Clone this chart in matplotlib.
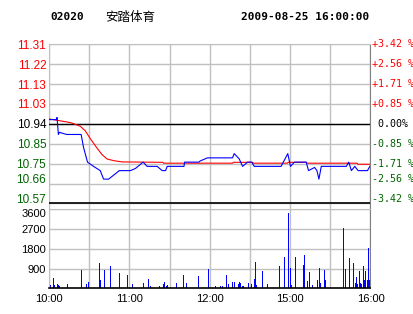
import matplotlib
matplotlib.use("Agg")
import matplotlib.pyplot as plt
import matplotlib.transforms as mtransforms

# --- data (minutes of trading since 10:00; lunch break 12:30-14:30 removed) ---
pre_close = 10.94
pct_steps = [3.42, 2.565, 1.71, 0.855, 0.0, -0.855, -1.71, -2.565, -3.42]
price_labels = ["11.31", "11.22", "11.13", "11.03", "10.94", "10.85", "10.75", "10.66", "10.57"]
pct_labels = ["+3.42 %", "+2.56 %", "+1.71 %", "+0.85 %", " 0.00%",
              "-0.85 %", "-1.71 %", "-2.56 %", "-3.42 %"]
vol_ticks = [3600, 2700, 1800, 900]
time_ticks = [0, 60, 120, 180, 240]
time_labels = ["10:00", "11:00", "12:00", "15:00", "16:00"]

price_t = [0, 5.5, 6, 7, 7.75, 13.25, 24, 25.75, 28.75, 33.25, 38.25, 40.75, 44.5,
           52.5, 60.75, 64.5, 70.25, 73.25, 80.75, 84.5, 87, 88.25, 100.75, 101.25,
           112, 112.75, 118.25, 137, 138.25, 142, 144.5, 148.25, 151.25, 153.25,
           173.25, 178.25, 180.25, 183.25, 192, 193.75, 198.25, 200, 201.5, 203.25,
           222, 223.75, 225.75, 228.25, 230.75, 237.75, 239.5]
price = [10.96, 10.96, 10.97, 10.89, 10.90, 10.89, 10.89, 10.83, 10.76, 10.74, 10.72,
         10.68, 10.68, 10.72, 10.72, 10.73, 10.76, 10.74, 10.74, 10.72, 10.72, 10.74,
         10.74, 10.76, 10.76, 10.765, 10.78, 10.78, 10.80, 10.775, 10.74, 10.76,
         10.76, 10.74, 10.74, 10.80, 10.74, 10.76, 10.76, 10.72, 10.735, 10.72,
         10.68, 10.74, 10.74, 10.76, 10.72, 10.74, 10.72, 10.72, 10.74]

avg_t = [0, 5.75, 13.25, 17, 23.25, 27, 30.75, 35.75, 39.5, 43.25, 48.25, 54.5, 85,
         85.5, 137, 137.5, 152, 152.5, 178, 178.5, 192, 192.5, 230, 230.5, 239.5]
avg_price = [10.963, 10.957, 10.949, 10.944, 10.929, 10.908, 10.871, 10.827, 10.796,
             10.775, 10.767, 10.761, 10.759, 10.755, 10.755, 10.759, 10.759, 10.755,
             10.755, 10.759, 10.759, 10.755, 10.755, 10.75, 10.75]

vol_t = [0, 1, 3.25, 4, 6.25, 7, 7.75, 13.75, 24.25, 27.25, 28.75, 37, 37.75, 40.75,
         45.25, 52, 58, 62, 70, 73.75, 75.25, 82, 85, 85.75, 87, 87.75, 94.75, 100,
         102.25, 111.25, 118.75, 124, 127.75, 129.25, 132.25, 133.75, 136.75, 138.25,
         141.25, 142, 142.75, 144.25, 145, 148.75, 151, 153.25, 154, 154.75, 159.25,
         163, 172, 175.75, 178.75, 180.25, 181, 184, 189.25, 190, 192.25, 193.75, 196,
         199.75, 201.25, 202, 205, 205.75, 219.25, 220.75, 223.75, 226.75, 228.25,
         229, 229.75, 231.25, 232, 232.75, 234.25, 235, 235.75, 237.25, 238, 238.75,
         239.5]
volume = [150, 150, 456, 150, 200, 150, 100, 200, 836, 200, 290, 1155, 380, 836, 1020,
          700, 610, 200, 240, 425, 100, 100, 200, 290, 100, 150, 240, 610, 240, 560,
          880, 100, 100, 100, 610, 200, 290, 290, 200, 290, 240, 100, 100, 240, 200,
          425, 1200, 150, 790, 200, 1020, 1430, 3440, 927, 150, 1430, 1065, 1520, 330,
          745, 150, 380, 927, 240, 836, 380, 2750, 880, 1380, 1155, 240, 515, 200, 790,
          240, 200, 1020, 380, 790, 380, 1825, 380, 330]

RED = "#ff0000"
GREEN = "#006400"
GRID = "#c0c0c0"
EDGE = "#808080"

fig = plt.figure(figsize=(4.14, 3.14), dpi=100)
W, H = 414, 314

def box(x0, y0, x1, y1):
    return [x0 / W, 1 - y1 / H, (x1 - x0) / W, (y1 - y0) / H]

levels = [pre_close * (1 + p / 100) for p in pct_steps]
ymax, ymin = levels[0], levels[-1]
ax = fig.add_axes(box(49, 44.3, 370.5, 209.3))
ax2 = fig.add_axes(box(49, 209.3, 370.5, 288.3))

# price panel
ax.set_xlim(0, 240)
ax.set_ylim(ymin - (ymax - ymin) * 5.9 / 159, ymax)
ax.set_xticks(time_ticks)
ax.set_xticks(range(0, 241, 30), minor=True)
ax.set_yticks(levels)
ax.grid(True, which="both", color=GRID, lw=1.0)
ax.tick_params(which="both", length=0, labelbottom=False, pad=2)
ax.set_yticklabels(price_labels, family="Liberation Sans", fontsize=8.5)
for i, lab in enumerate(ax.get_yticklabels()):
    if pct_steps[i] > 0:
        lab.set_color(RED)
    elif pct_steps[i] < 0:
        lab.set_color(GREEN)
    if i >= 7:
        lab.set_transform(lab.get_transform() +
                          mtransforms.ScaledTranslation(0, 3.3 / 72, fig.dpi_scale_trans))
for s in ["top", "left"]:
    ax.spines[s].set_color(GRID)
ax.spines["right"].set_color(EDGE)
ax.spines["bottom"].set_visible(False)
ax.axhline(pre_close, color="black", lw=1.0, zorder=3)
ax.axhline(ymin, color="black", lw=1.2, zorder=3)

ax.plot(avg_t, avg_price, color=RED, lw=0.8, zorder=4)
ax.plot(price_t, price, color="#0000ff", lw=0.8, zorder=5)

trans = mtransforms.blended_transform_factory(ax.transAxes, ax.transData)
for i, (v, lab) in enumerate(zip(levels, pct_labels)):
    p = pct_steps[i]
    c = RED if p > 0 else (GREEN if p < 0 else "black")
    dy = 3.3 if i >= 7 else 0
    ax.annotate(lab, (1.0, v), xycoords=trans, xytext=(1, dy), textcoords="offset points",
                ha="left", va="center", color=c, family="DejaVu Sans Mono",
                fontsize=7.2, annotation_clip=False)

# volume panel
ax2.vlines(vol_t, 0, volume, color="#0000ff", lw=0.72, antialiased=False)
ax2.set_xlim(0, 240)
ax2.set_ylim(0, 3600)
ax2.set_xticks(time_ticks)
ax2.set_xticklabels(time_labels, family="Liberation Sans", fontsize=8)
ax2.set_xticks(range(0, 241, 30), minor=True)
ax2.set_yticks(vol_ticks)
ax2.set_yticklabels([str(v) for v in vol_ticks], family="Liberation Sans", fontsize=8)
ax2.get_yticklabels()[0].set_va("top")
ax2.grid(True, which="both", color=GRID, lw=1.0)
ax2.tick_params(which="both", length=0, pad=2)
ax2.tick_params(axis="x", pad=4)
for s in ["top", "left"]:
    ax2.spines[s].set_color(GRID)
ax2.spines["right"].set_color(EDGE)
ax2.spines["bottom"].set_color("black")
ax2.spines["bottom"].set_linewidth(1.2)

# header
fig.text(50 / W, 1 - 17 / H, "02020", family="DejaVu Sans Mono", weight="bold",
         fontsize=8, va="center", ha="left")
fig.text(105 / W, 1 - 17 / H, "安踏体育", family=["Noto Sans CJK SC", "DejaVu Sans"],
         fontsize=9, va="center", ha="left")
fig.text(369 / W, 1 - 17 / H, "2009-08-25 16:00:00", family="DejaVu Sans Mono",
         weight="bold", fontsize=8, va="center", ha="right")

fig.savefig("out.png", dpi=100)
